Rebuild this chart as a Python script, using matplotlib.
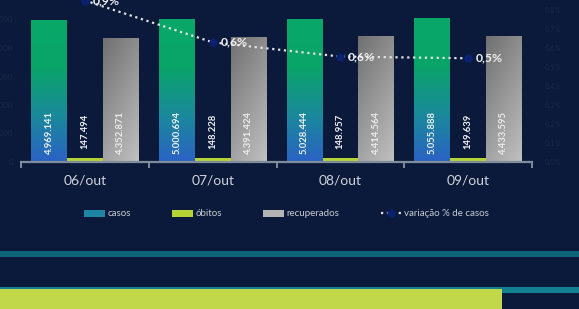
import numpy as np
import matplotlib
matplotlib.use("Agg")
import matplotlib.pyplot as plt
from matplotlib.patches import Patch
from matplotlib.lines import Line2D
from matplotlib.colors import LinearSegmentedColormap
from matplotlib.ticker import FixedLocator

plt.rcParams['font.family'] = ['Lato', 'DejaVu Sans']

categories = ['06/out', '07/out', '08/out', '09/out']
casos = [4969141, 5000694, 5028444, 5055888]
obitos = [147494, 148228, 148957, 149639]
recuperados = [4352871, 4391424, 4414564, 4433595]
variacao = [0.85, 0.63, 0.555, 0.546]
variacao_labels = ['0,9%', '0,6%', '0,6%', '0,5%']
left_ticks = [0, 1000000, 2000000, 3000000, 4000000, 5000000, 6000000]
right_ticks = [0.0, 0.1, 0.2, 0.3, 0.4, 0.5, 0.6, 0.7, 0.8, 0.9]

BG = '#0b1a3a'
W, H = 579, 309
fig = plt.figure(figsize=(W / 100, H / 100), dpi=100, facecolor=BG)

ax = fig.add_axes([21 / W, (H - 162) / H, 511 / W, 171 / H])
ax.set_facecolor('none')
ax2 = ax.twinx()
ax2.set_facecolor('none')

x = np.arange(len(categories))
bw = 0.28

cmap_casos = LinearSegmentedColormap.from_list('c', ['#2a62c4', '#1a8a9a', '#0aa468', '#08a868'])
cmap_rec = LinearSegmentedColormap.from_list('r', ['#707070', '#c0c0c0'])

b1 = ax.bar(x - bw, casos, bw, color='#1a8a9a', linewidth=0)
b2 = ax.bar(x, obitos, bw, color='#b5d334', linewidth=0)
b3 = ax.bar(x + bw, recuperados, bw, color='#999999', linewidth=0)

vgrad = np.linspace(0, 1, 256).reshape(-1, 1)
gx, gy = np.meshgrid(np.linspace(0, 1, 64), np.linspace(1, 0, 256))
dgrad = 0.35 * gx + 0.65 * (1 - gy)
for rect in b1:
    x0, w, h = rect.get_x(), rect.get_width(), rect.get_height()
    im = ax.imshow(vgrad, cmap=cmap_casos, origin='lower', aspect='auto',
                   extent=[x0, x0 + w, 0, h], zorder=2)
    im.set_clip_path(rect)
for rect in b3:
    x0, w, h = rect.get_x(), rect.get_width(), rect.get_height()
    im = ax.imshow(dgrad, cmap=cmap_rec, origin='upper', aspect='auto',
                   extent=[x0, x0 + w, 0, h], zorder=2)
    im.set_clip_path(rect)

def fmt(v):
    return f"{v:,}".replace(',', '.')

for i in range(len(categories)):
    ax.annotate(fmt(casos[i]), (x[i] - bw, 0), xytext=(0, 5.8), textcoords='offset points',
                rotation=90, ha='center', va='bottom', color='#f2f2f2', fontsize=6.8,
                fontweight='bold', zorder=5)
    ax.annotate(fmt(obitos[i]), (x[i], obitos[i]), xytext=(0, 6.5), textcoords='offset points',
                rotation=90, ha='center', va='bottom', color='#f2f2f2', fontsize=6.8,
                fontweight='bold', zorder=5)
    ax.annotate(fmt(recuperados[i]), (x[i] + bw, 0), xytext=(0, 5.8), textcoords='offset points',
                rotation=90, ha='center', va='bottom', color='#ececec', fontsize=6.8,
                fontweight='bold', zorder=5)

ax.set_xlim(-0.5, 3.5)
ax.set_ylim(0, 6000000)
ax2.set_ylim(0, 0.9)

ax2.plot(x, variacao, linestyle=':', color='#e4e4e4', lw=1.6, marker='o', ms=5,
         mfc='#0a2070', mec='#0a2070', zorder=4)
for i in range(len(categories)):
    ax2.annotate(variacao_labels[i], (x[i], variacao[i]), xytext=(5.5, 0),
                 textcoords='offset points', ha='left', va='center', color='#f0f0f0',
                 fontsize=8.8, fontweight='bold', zorder=6)

for a in (ax, ax2):
    for s in ('top', 'left', 'right'):
        a.spines[s].set_visible(False)
ax2.spines['bottom'].set_visible(False)
ax.spines['bottom'].set_color('#7f8c9c')
ax.spines['bottom'].set_linewidth(1.6)

ax.set_xticks(x)
ax.set_xticklabels(categories, color='#cfd3da', fontsize=10)
ax.xaxis.set_minor_locator(FixedLocator([-0.5, 0.5, 1.5, 2.5, 3.5]))
ax.tick_params(axis='x', which='major', length=0, pad=9)
ax.tick_params(axis='x', which='minor', length=4, width=1.4, color='#7f8c9c', direction='out')

ax.set_yticks(left_ticks)
ax.set_yticklabels([fmt(v) for v in left_ticks], color='#18284a', fontsize=5.5)
ax.tick_params(axis='y', length=0, pad=6)
ax2.set_yticks(right_ticks)
ax2.set_yticklabels([f"{v:.1f}%".replace('.', ',') for v in right_ticks], color='#18284a',
                    fontsize=5.5)
ax2.tick_params(axis='y', length=0, pad=9)

handles = [
    Patch(facecolor='#1d86a4', edgecolor='none', label='casos'),
    Patch(facecolor='#b5d334', edgecolor='none', label='óbitos'),
    Patch(facecolor='#b4b4b4', edgecolor='none', label='recuperados'),
    Line2D([0], [0], linestyle=':', color='#e4e4e4', lw=1.6, marker='o', ms=5,
           mfc='#0a2070', mec='#0a2070', label='variação % de casos'),
]
fig.legend(handles=handles, loc='center', bbox_to_anchor=(286.5 / W, (H - 214) / H),
           ncol=4, frameon=False, fontsize=7, labelcolor='#c8ccd4', handlelength=2.2,
           handleheight=0.7, columnspacing=4.2, handletextpad=0.25)

# bottom decoration bands
fig.patches.append(plt.Rectangle((0, (H - 257) / H), 1, 6 / H, transform=fig.transFigure,
                                 facecolor='#0f6478', edgecolor='none'))
fig.patches.append(plt.Rectangle((0, (H - 293) / H), 1, 6 / H, transform=fig.transFigure,
                                 facecolor='#128090', edgecolor='none'))
fig.patches.append(plt.Rectangle((0, 0), 502 / W, 20 / H, transform=fig.transFigure,
                                 facecolor='#c0d84a', edgecolor='none'))

fig.savefig('out.png', dpi=100, facecolor=BG)
